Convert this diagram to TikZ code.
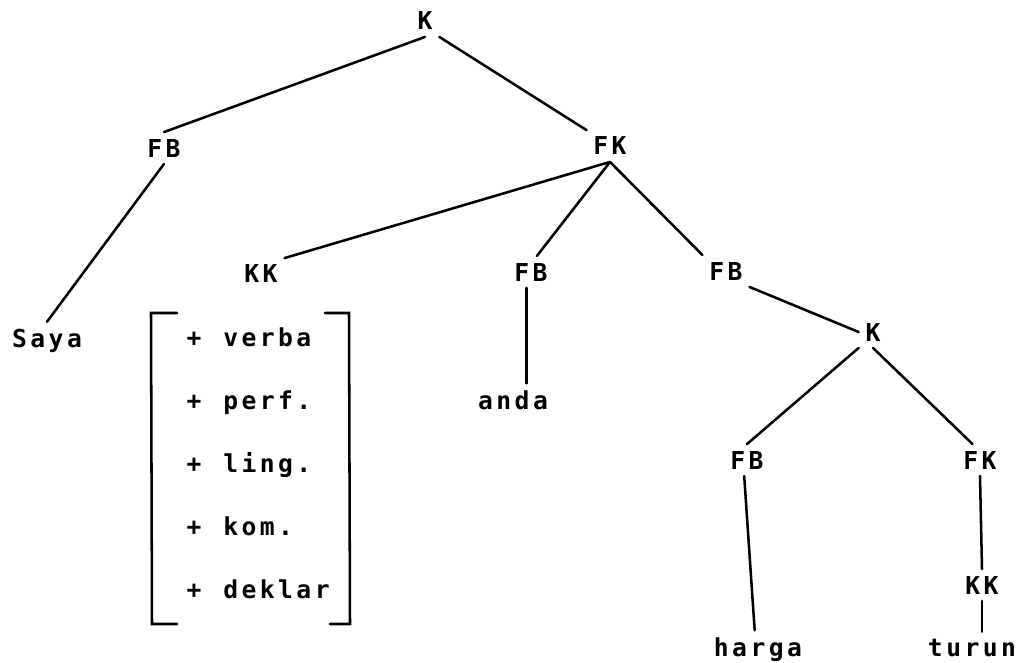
\documentclass[tikz,border=0pt]{standalone}
\usepackage{fontspec}
\newfontfamily\treefont[LetterSpace=14]{DejaVu Sans Mono}
\begin{document}
\begin{tikzpicture}[x=0.75pt,y=-0.75pt,
  kat/.style={inner sep=5pt, font=\treefont\bfseries\fontsize{18.5}{20}\selectfont},
  kata/.style={kat, anchor=base},
  garis/.style={line width=1.9pt, line cap=round}]
\useasboundingbox (0,0) rectangle (1022,662);

% category labels
\node[kat] (k) at (425,21) {K};
\node[kat] (fb1) at (164,148) {FB};
\node[kat] (fk) at (610,146) {FK};
\node[kat] (kk) at (261,274) {KK};
\node[kat] (fb2) at (531,272) {FB};
\node[kat] (fb3) at (726,271) {FB};
\node[kat] (k2) at (873,332) {K};
\node[kat] (fb4) at (747,460) {FB};
\node[kat] (fk2) at (980,460) {FK};
\node[kat] (kk2) at (982,585) {KK};

% words
\node[kata] (saya) at (47,347) {Saya};
\node[kata] (anda) at (513,409) {anda};
\node[kata] (harga) at (758,656) {harga};
\node[kata] (turun) at (972,656) {turun};

% features of KK
\foreach \ciri [count=\i from 0] in {verba,perf.,ling.,kom.,deklar} {
  \node[kata] (plus\i) at (194,346+63*\i) {+};
  \node[kata, anchor=base west, inner sep=0pt] (ciri\i) at (223,346+63*\i) {\ciri};
}
\draw[garis] (177,313) -- (151,313) -- (152,624) -- (177,624);
\draw[garis] (325,313) -- (349,313) -- (350,624) -- (330,624);

% branches
\draw[garis] (k.south) -- (fb1.north);
\draw[garis] (k.south east) -- (fk.north west);
\draw[garis] (fb1.south) -- (saya.north);
\draw[garis] (fk.south) -- (kk.north east);
\draw[garis] (fk.south) -- (fb2.70);
\draw[garis] (fk.south) -- (fb3.north west);
\draw[garis] (fb2.-105) -- (fb2.-105 |- anda.north);
\draw[garis] (fb3.south east) -- (k2.west);
\draw[garis] (k2.south west) -- (fb4.north);
\draw[garis] (k2.south) -- (fk2.115);
\draw[garis] (fb4.-100) -- (harga.100);
\draw[garis] (fk2.south) -- (kk2.north);
\draw[garis] (kk2.south) -- (kk2.south |- turun.north);
\end{tikzpicture}
\end{document}
